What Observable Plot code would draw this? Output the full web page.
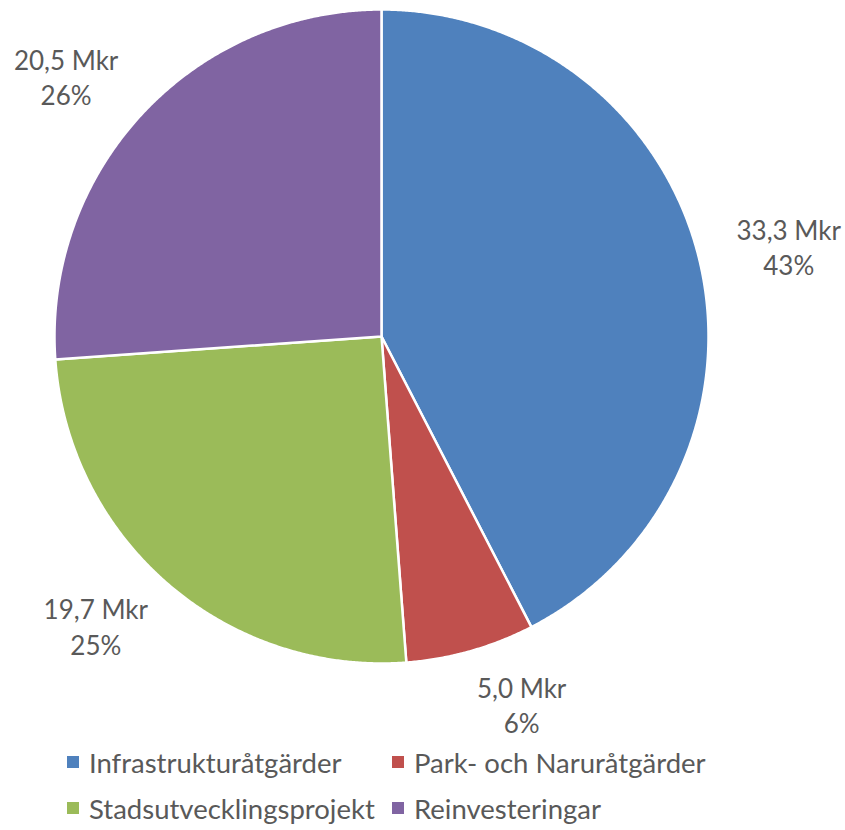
<!DOCTYPE html>
<html>
<head>
<meta charset="utf-8">
<script src="https://cdn.jsdelivr.net/npm/d3@7"></script>
<script src="https://cdn.jsdelivr.net/npm/@observablehq/plot@0.6"></script>
<style>
  body { margin: 0; background: #fff; font-family: Lato, "Open Sans", sans-serif; }
  #chart svg { display: block; }
  #legend { display: grid; grid-template-columns: 325px 420px; padding-left: 67px; margin-top: -3px; color: #595959; font-size: 27.5px; }
  #legend .item { height: 46px; display: flex; align-items: center; white-space: nowrap; }
  #legend .sw { width: 12px; height: 12px; margin-right: 10px; flex: none; }
</style>
</head>
<body>
<div id="chart"></div>
<div id="legend"></div>
<script>
const names = ["Infrastrukturåtgärder", "Park- och Naruråtgärder", "Stadsutvecklingsprojekt", "Reinvesteringar"];
const values = [33.3, 5.0, 19.7, 20.5];
const valueLabels = ["33,3 Mkr", "5,0 Mkr", "19,7 Mkr", "20,5 Mkr"];
const pctLabels = ["43%", "6%", "25%", "26%"];
const colors = ["#4F81BD", "#C0504D", "#9BBB59", "#8064A2"];

const W = 845, H = 742, CX = 381, CY = 336, R = 327;

const arcs = d3.pie().sort(null).value(d => d)(values);

// polygon points for each slice (unit radius)
const points = [];
arcs.forEach((a, i) => {
  const n = Math.max(2, Math.ceil((a.endAngle - a.startAngle) / 0.005));
  points.push({name: names[i], x: 0, y: 0});
  for (let k = 0; k <= n; k++) {
    const t = a.startAngle + (a.endAngle - a.startAngle) * k / n;
    points.push({name: names[i], x: Math.sin(t), y: -Math.cos(t)});
  }
});

// label positions, placed outside each slice's mid-angle
const labels = arcs.map((a, i) => {
  const m = (a.startAngle + a.endAngle) / 2;
  const dx = Math.sin(m), dy = -Math.cos(m);
  const ox = (dx * 55 + Math.sign(dx) * 36) / R;
  const oy = (dy * 55) / R;
  return {name: names[i], x: dx + ox, y: dy + oy, text: valueLabels[i] + "\n" + pctLabels[i]};
});

const chart = Plot.plot({
  width: W,
  height: H,
  margin: 0,
  x: {domain: [-CX / R, (W - CX) / R], axis: null},
  y: {domain: [-CY / R, (H - CY) / R], reverse: true, axis: null},
  color: {domain: names, range: colors},
  style: {background: "white"},
  marks: [
    Plot.line(points, {x: "x", y: "y", z: "name", fill: "name", stroke: "white", strokeWidth: 2.5, curve: "linear-closed"}),
    Plot.text(labels, {x: "x", y: "y", text: "text", fill: "#595959", fontSize: 26, lineHeight: 1.36, fontFamily: "Lato", textAnchor: "middle"})
  ]
});
document.getElementById("chart").appendChild(chart);

const legend = document.getElementById("legend");
names.forEach((n, i) => {
  const it = document.createElement("div");
  it.className = "item";
  const sw = document.createElement("span");
  sw.className = "sw";
  sw.style.background = colors[i];
  it.appendChild(sw);
  it.appendChild(document.createTextNode(n));
  legend.appendChild(it);
});
</script>
</body>
</html>
